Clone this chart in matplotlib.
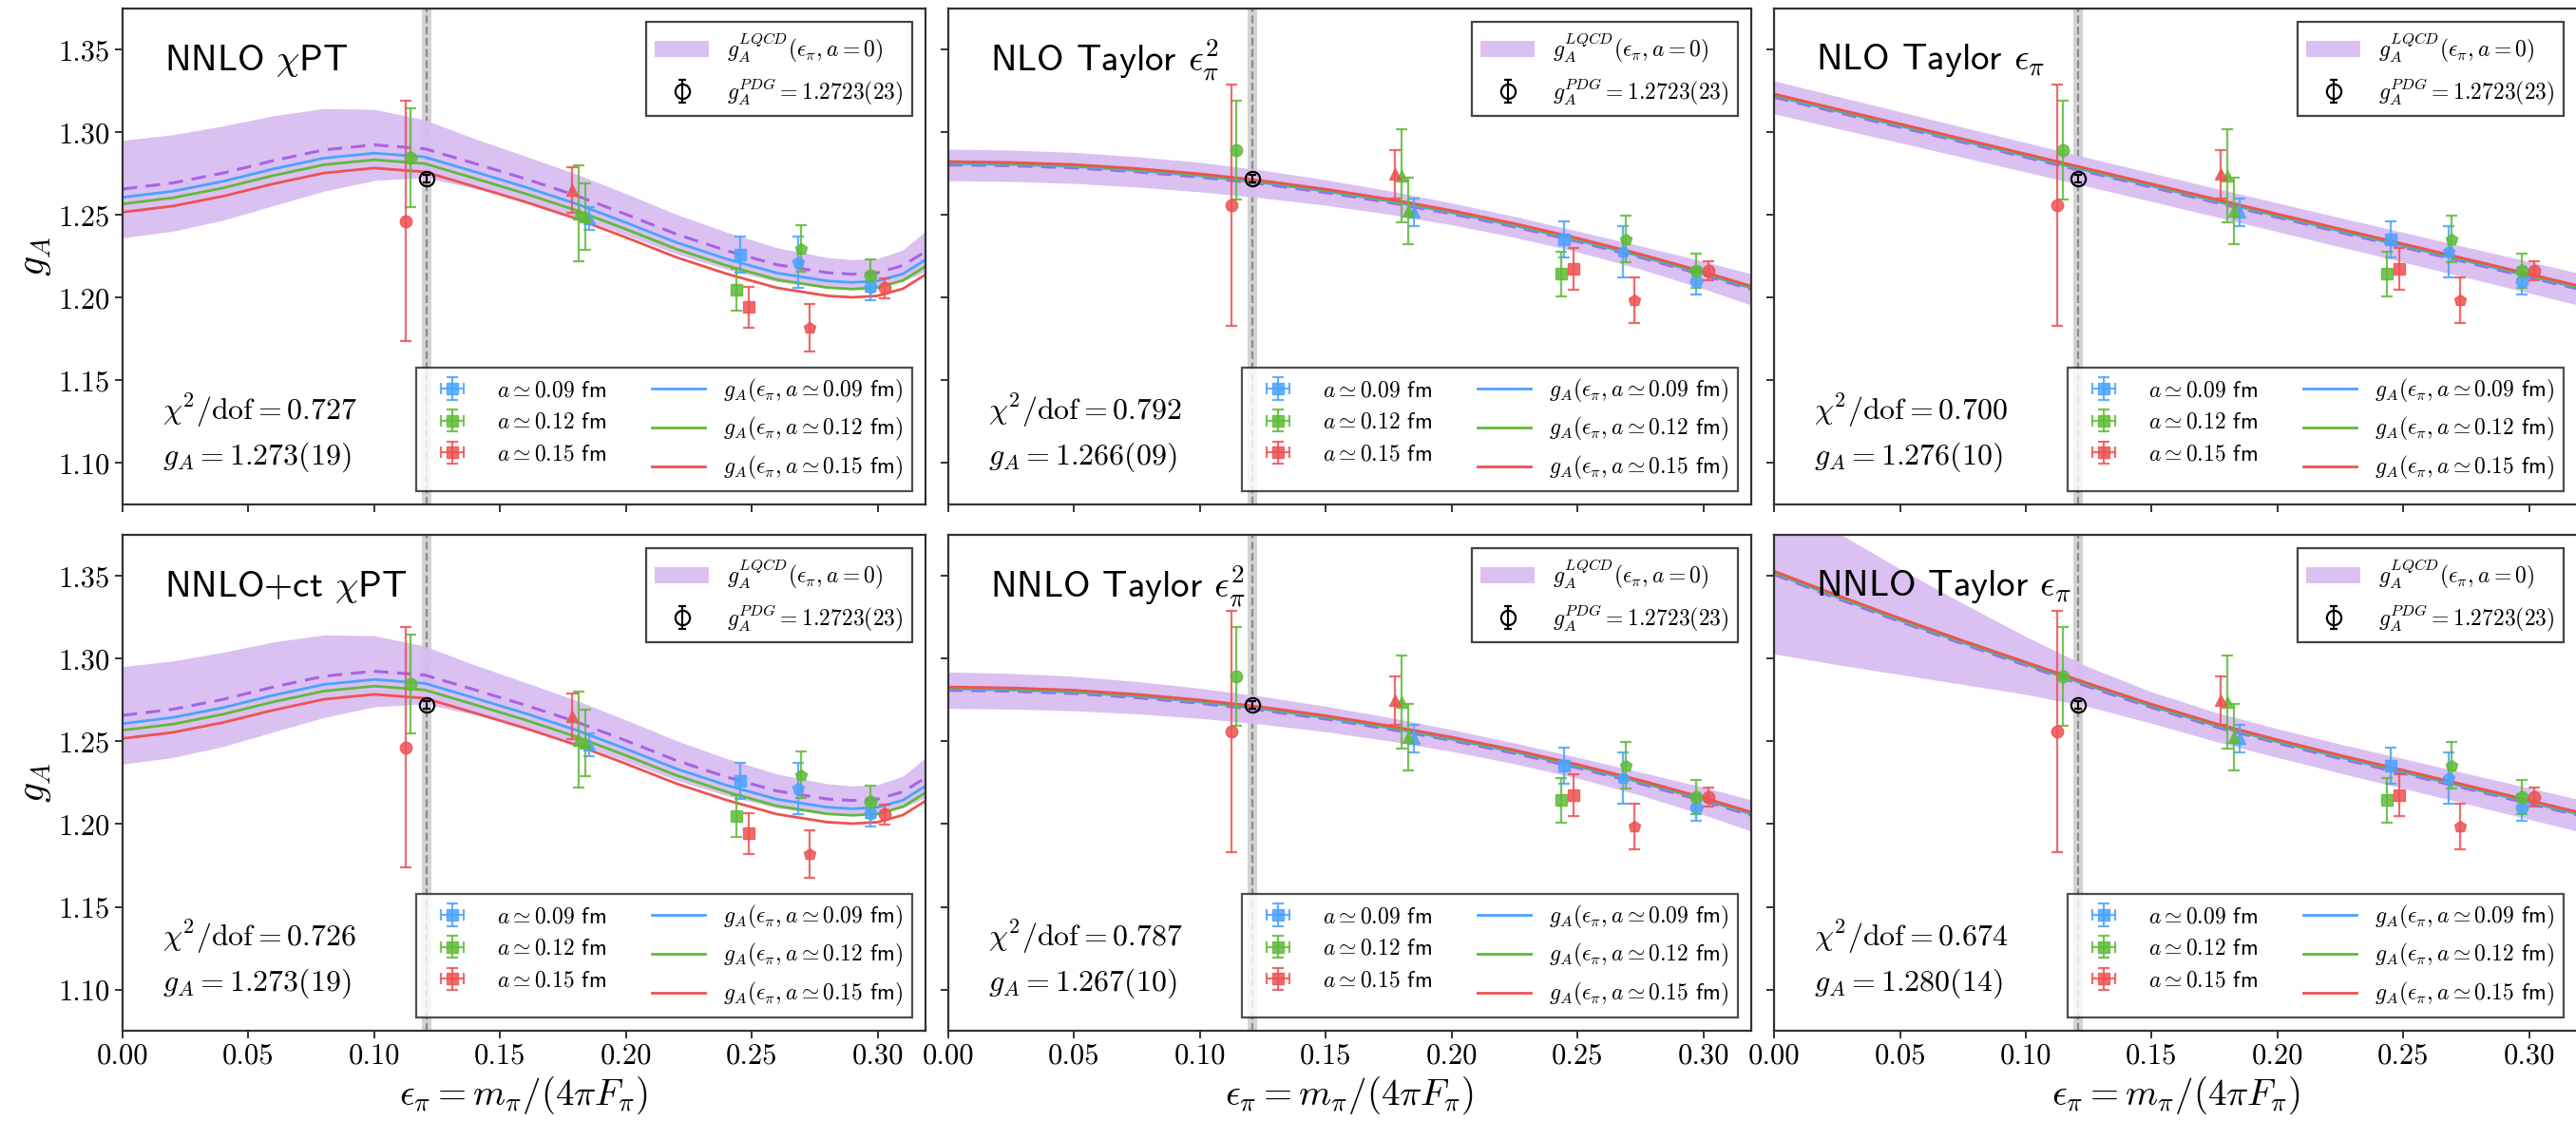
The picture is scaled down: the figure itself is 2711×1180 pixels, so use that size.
import numpy as np
import matplotlib.pyplot as plt

plt.rcParams['mathtext.fontset'] = 'cm'
plt.rcParams['font.family'] = 'cmr10'
plt.rcParams['axes.unicode_minus'] = False

# lattice spacings and colours
A_VALS = ['0.09', '0.12', '0.15']
A_COLORS = ['#4aa3ff', '#5fbb37', '#ee5252']
BAND_COLOR = '#d9bdf2'
DASH_COLOR = '#a862e6'

# physical point / PDG value
EPS_PHYS = 0.1207
GA_PDG = 1.2723
GA_PDG_ERR = 0.0023

# lattice data, chiPT-corrected (one list per lattice spacing)
CHPT_EPS = [[0.1853, 0.2454, 0.2683, 0.2972],
            [0.1145, 0.1813, 0.1839, 0.2438, 0.2696, 0.2972],
            [0.1126, 0.1784, 0.2488, 0.2731, 0.3026]]
CHPT_GA = [[1.2480, 1.2263, 1.2216, 1.2064],
           [1.2846, 1.2510, 1.2490, 1.2049, 1.2298, 1.2135],
           [1.2463, 1.2652, 1.1944, 1.1819, 1.2059]]
CHPT_ERR = [[0.0070, 0.0110, 0.0153, 0.0078],
            [0.0300, 0.0290, 0.0200, 0.0125, 0.0140, 0.0096],
            [0.0727, 0.0140, 0.0123, 0.0144, 0.0060]]

# lattice data, Taylor-corrected
TAY_EPS = [[0.1850, 0.2448, 0.2680, 0.2970],
           [0.1146, 0.1800, 0.1826, 0.2435, 0.2692, 0.2970],
           [0.1126, 0.1775, 0.2483, 0.2726, 0.3020]]
TAY_GA = [[1.2518, 1.2355, 1.2279, 1.2102],
          [1.2892, 1.2739, 1.2525, 1.2145, 1.2355, 1.2164],
          [1.2560, 1.2748, 1.2174, 1.1986, 1.2164]]
TAY_ERR = [[0.0082, 0.0110, 0.0153, 0.0080],
           [0.0300, 0.0280, 0.0200, 0.0134, 0.0140, 0.0105],
           [0.0730, 0.0148, 0.0125, 0.0140, 0.0060]]

ENS_MARKERS = [['^', 's', 'p', 'o'],
               ['o', '^', '^', 's', 'p', 'o'],
               ['o', '^', 's', 'p', 'o']]

# fit curves (a = 0): centre and half width of the band
CHPT_GRID = [0.0, 0.02, 0.04, 0.06, 0.08, 0.10, 0.12, 0.14, 0.16, 0.18,
             0.20, 0.22, 0.24, 0.26, 0.28, 0.29, 0.30, 0.31, 0.32]
NNLO_CHPT_MID = [1.2658, 1.2695, 1.2755, 1.2830, 1.2895, 1.2925, 1.2902, 1.2812,
                 1.2720, 1.2620, 1.2505, 1.2385, 1.2285, 1.2200, 1.2152, 1.2143,
                 1.2152, 1.2195, 1.2290]
NNLO_CHPT_HW = [0.0295, 0.0292, 0.0285, 0.0272, 0.0250, 0.0215, 0.0175, 0.0150,
                0.0137, 0.0130, 0.0125, 0.0120, 0.0112, 0.0103, 0.0092, 0.0088,
                0.0086, 0.0095, 0.0125]
NNLOCT_CHPT_MID = [1.2658, 1.2695, 1.2755, 1.2830, 1.2895, 1.2925, 1.2902, 1.2812,
                   1.2720, 1.2620, 1.2505, 1.2385, 1.2285, 1.2200, 1.2152, 1.2143,
                   1.2152, 1.2195, 1.2290]
NNLOCT_CHPT_HW = [0.0295, 0.0292, 0.0285, 0.0272, 0.0250, 0.0215, 0.0175, 0.0150,
                  0.0137, 0.0130, 0.0125, 0.0120, 0.0112, 0.0103, 0.0092, 0.0088,
                  0.0086, 0.0095, 0.0125]

TAY_GRID = [0.0, 0.025, 0.05, 0.075, 0.1, 0.125, 0.15, 0.175, 0.2,
            0.225, 0.25, 0.275, 0.3, 0.32]
NLO_TAY2_MID = [1.2804, 1.2799, 1.2786, 1.2762, 1.2730, 1.2688, 1.2637,
                1.2577, 1.2508, 1.2429, 1.2341, 1.2244, 1.2138, 1.2046]
NLO_TAY2_HW = [0.0095, 0.0095, 0.0094, 0.0092, 0.0089, 0.0084, 0.0077,
               0.0071, 0.0066, 0.0063, 0.0063, 0.0070, 0.0083, 0.0095]
NNLO_TAY2_MID = [1.2810, 1.2804, 1.2790, 1.2765, 1.2731, 1.2688, 1.2636,
                 1.2575, 1.2506, 1.2428, 1.2341, 1.2245, 1.2140, 1.2048]
NNLO_TAY2_HW = [0.0110, 0.0108, 0.0104, 0.0098, 0.0091, 0.0084, 0.0077,
                0.0071, 0.0066, 0.0063, 0.0063, 0.0070, 0.0083, 0.0095]
NLO_TAY1_MID = [1.3213, 1.3122, 1.3032, 1.2941, 1.2850, 1.2759, 1.2669,
                1.2578, 1.2487, 1.2396, 1.2306, 1.2215, 1.2124, 1.2051]
NLO_TAY1_HW = [0.0100, 0.0097, 0.0094, 0.0091, 0.0089, 0.0087, 0.0086,
               0.0086, 0.0087, 0.0088, 0.0090, 0.0092, 0.0095, 0.0097]
NNLO_TAY1_MID = [1.3510, 1.3365, 1.3225, 1.3090, 1.2960, 1.2830, 1.2705,
                 1.2590, 1.2490, 1.2396, 1.2306, 1.2215, 1.2124, 1.2051]
NNLO_TAY1_HW = [0.0480, 0.0400, 0.0320, 0.0245, 0.0175, 0.0120, 0.0095,
                0.0088, 0.0087, 0.0088, 0.0090, 0.0092, 0.0095, 0.0097]

# shift of the finite-a curves relative to a = 0, per panel
CHPT_SHIFT = [-0.005, -0.009, -0.014]
TAY_SHIFT = [0.0008, 0.0014, 0.0020]

PANEL_TITLES = [r'NNLO $\chi$PT', r'NLO Taylor $\epsilon_\pi^2$', r'NLO Taylor $\epsilon_\pi$',
                r'NNLO+ct $\chi$PT', r'NNLO Taylor $\epsilon_\pi^2$', r'NNLO Taylor $\epsilon_\pi$']
PANEL_CHI2 = ['0.727', '0.792', '0.700', '0.726', '0.787', '0.674']
PANEL_GA = ['1.273(19)', '1.266(09)', '1.276(10)', '1.273(19)', '1.267(10)', '1.280(14)']

panel_grid = [CHPT_GRID, TAY_GRID, TAY_GRID] * 2
panel_mid = [NNLO_CHPT_MID, NLO_TAY2_MID, NLO_TAY1_MID, NNLOCT_CHPT_MID, NNLO_TAY2_MID, NNLO_TAY1_MID]
panel_hw = [NNLO_CHPT_HW, NLO_TAY2_HW, NLO_TAY1_HW, NNLOCT_CHPT_HW, NNLO_TAY2_HW, NNLO_TAY1_HW]
panel_shift = [CHPT_SHIFT, TAY_SHIFT, TAY_SHIFT] * 2
panel_data = [(CHPT_EPS, CHPT_GA, CHPT_ERR), (TAY_EPS, TAY_GA, TAY_ERR), (TAY_EPS, TAY_GA, TAY_ERR)] * 2

fig = plt.figure(figsize=(27.11, 11.80), dpi=100)
lefts = [0.0476, 0.3681, 0.6887]
bottoms = [0.550, 0.0805]
width, height = 0.3117, 0.4424

for i in range(6):
    row, col = divmod(i, 3)
    ax = fig.add_axes([lefts[col], bottoms[row], width, height])
    eps = np.array(panel_grid[i])
    mid = np.array(panel_mid[i])
    hw = np.array(panel_hw[i])

    ax.axvspan(EPS_PHYS - 0.0019, EPS_PHYS + 0.0019, color='#b0b0b0', alpha=0.55, lw=0, zorder=0)
    ax.axvline(EPS_PHYS, color='#8c8c8c', ls='--', lw=1.6, zorder=0.5)

    band = ax.fill_between(eps, mid - hw, mid + hw, color=BAND_COLOR, alpha=0.95, lw=0, zorder=1)
    ax.plot(eps, mid, color=DASH_COLOR, ls='--', lw=2.2, dashes=(5, 3), zorder=2)
    line_handles = []
    for k in range(3):
        ln, = ax.plot(eps, mid + panel_shift[i][k], color=A_COLORS[k], lw=2.0, zorder=2.2)
        line_handles.append(ln)

    d_eps, d_ga, d_err = panel_data[i]
    for k in range(3):
        for e, g, s, m in zip(d_eps[k], d_ga[k], d_err[k], ENS_MARKERS[k]):
            ax.errorbar(e, g, yerr=s, fmt=m, color=A_COLORS[k], ms=9, elinewidth=1.6,
                        capsize=4, capthick=1.6, alpha=0.85, zorder=3)

    pdg = ax.errorbar(EPS_PHYS, GA_PDG, yerr=GA_PDG_ERR, fmt='o', mfc='none', mec='k',
                      ecolor='k', ms=11, mew=1.6, capsize=3, capthick=1.4, zorder=4)

    # legend proxies for the data
    pt_handles = []
    for k in range(3):
        h = ax.errorbar([np.nan], [np.nan], xerr=[1], yerr=[1], fmt='s', color=A_COLORS[k],
                        ms=9, elinewidth=1.6, capsize=4, capthick=1.6, alpha=0.85)
        pt_handles.append(h)

    ax.set_xlim(0, 0.319)
    ax.set_ylim(1.075, 1.375)
    ax.set_xticks([0.0, 0.05, 0.10, 0.15, 0.20, 0.25, 0.30])
    ax.set_yticks([1.10, 1.15, 1.20, 1.25, 1.30, 1.35])
    ax.xaxis.set_major_formatter(plt.FormatStrFormatter('%.2f'))
    ax.yaxis.set_major_formatter(plt.FormatStrFormatter('%.2f'))
    ax.tick_params(labelsize=22, length=6, width=1.4, color='#333333')
    for sp in ax.spines.values():
        sp.set_linewidth(1.6)
        sp.set_color('#333333')
    if row == 0:
        ax.tick_params(labelbottom=False)
    else:
        ax.set_xlabel(r'$\epsilon_\pi = m_\pi/(4\pi F_\pi)$', fontsize=28, labelpad=4)
    if col == 0:
        ax.set_ylabel(r'$g_A$', fontsize=30, labelpad=4)
    else:
        ax.tick_params(labelleft=False)

    ax.text(0.052, 0.895, PANEL_TITLES[i], transform=ax.transAxes, fontsize=28,
            family='cmss10', va='center', ha='left')
    ax.text(0.05, 0.19, r'$\chi^2/\mathrm{dof} = %s$' % PANEL_CHI2[i], transform=ax.transAxes,
            fontsize=23, va='center', ha='left')
    ax.text(0.05, 0.095, r'$g_A = %s$' % PANEL_GA[i], transform=ax.transAxes,
            fontsize=23, va='center', ha='left')

    leg1 = ax.legend([band, pdg], [r'$g_A^{LQCD}(\epsilon_\pi, a=0)$', r'$g_A^{PDG} = 1.2723(23)$'],
                     loc='upper right', prop={'family': 'cmss10', 'size': 17},
                     fancybox=False, edgecolor='#222222', framealpha=0.85,
                     borderaxespad=0.6, handlelength=2.4)
    leg1.get_frame().set_linewidth(1.6)
    ax.add_artist(leg1)
    labels = [r'$a \simeq %s$ fm' % a for a in A_VALS] + \
             [r'$g_A(\epsilon_\pi, a \simeq %s$ fm$)$' % a for a in A_VALS]
    leg2 = ax.legend(pt_handles + line_handles, labels, ncol=2, loc='lower right',
                     prop={'family': 'cmss10', 'size': 17}, fancybox=False,
                     edgecolor='#222222', framealpha=0.8, borderaxespad=0.6,
                     handlelength=2.4, columnspacing=2.0)
    leg2.get_frame().set_linewidth(1.6)

fig.savefig('out.png', dpi=100)
